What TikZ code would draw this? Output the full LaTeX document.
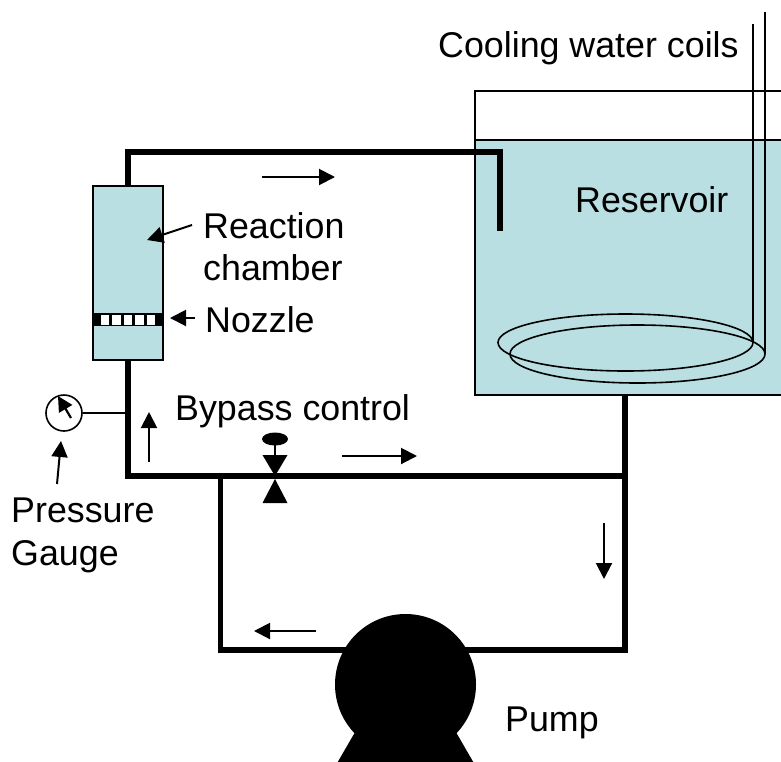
\documentclass[tikz,border=0pt]{standalone}
\usepackage{fontspec}
\setmainfont{Liberation Sans}
\usetikzlibrary{arrows.meta}
\definecolor{water}{HTML}{B9DFE2}
\tikzset{
 lab/.style={anchor=base west,inner sep=0pt,font=\fontsize{35.8}{35.8}\selectfont,text=black},
 pipe/.style={line width=5.6pt,line cap=butt,line join=miter},
 thin line/.style={line width=1.6pt},
 flow/.style={line width=2pt,-{Triangle[length=16pt,width=16pt]}},
 blob/.style={fill=black,draw=none}
}
\begin{document}
\begin{tikzpicture}[x=1pt,y=-1pt]
\useasboundingbox (0,0) rectangle (781,761);
\clip (0,0) rectangle (781,761);
% reservoir
\fill[water] (475,140) rectangle (790,395);
\draw[thin line] (790,91) -- (475,91) -- (475,395) -- (790,395);
\draw[thin line] (475,140) -- (790,140);
% coils
\coordinate (c1) at (625.5,342.5);
\coordinate (c2) at (637.5,354);
\coordinate (c1top) at (753,24);
\coordinate (c2top) at (765,12);
\coordinate (c1end) at (753,342.5);
\coordinate (c2end) at (765,354);
\draw[thin line] (c1) ellipse [x radius=127.5,y radius=28.5];
\draw[thin line] (c2) ellipse [x radius=127.5,y radius=29];
\draw[thin line] (c1top) -- (c1end);
\draw[thin line] (c2top) -- (c2end);
% chamber
\draw[thin line,fill=water] (93,186) rectangle (163,360);
\fill[black] (92,313) rectangle (164,326);
\foreach \a in {101,112.4,124,135.4,147.2} \fill[white] (\a,314.5) rectangle +(8.2,10);
% pipes
\coordinate (chamberTop) at (128,186);
\coordinate (chamberBot) at (128,360);
\coordinate (outlet) at (500,231);
\coordinate (resBot) at (625,395);
\coordinate (tee) at (625,476);
\coordinate (corner) at (128,476);
\coordinate (branch) at (220.5,476);
\draw[pipe] (chamberTop) -- (128,152) -- (500,152) -- (outlet);
\draw[pipe] (chamberBot) -- (corner) -- (tee);
\draw[pipe] (resBot) -- (tee) -- (625,650) -- (405,650);
\draw[pipe] (branch) -- (220.5,650) -- (405,650);
% pump
\fill[blob] (405.5,684.5) circle [radius=70.5];
\fill[blob] (358,727) -- (453,727) -- (475,765) -- (336,765) -- cycle;
% valve
\fill[blob] (262.5,455) -- (287.5,455) -- (275,476) -- cycle;
\fill[blob] (262.5,503) -- (287.5,503) -- (275,479) -- cycle;
\draw[thin line] (275,443) -- (275,456);
\fill[blob] (275,439) ellipse [x radius=13,y radius=6.5];
% gauge
\node[circle,draw,line width=1.6pt,minimum size=36pt,inner sep=0pt] (gauge) at (64,413) {};
\coordinate (tap) at (126,413);
\draw[thin line] (gauge) -- (tap);
\draw[line width=2.2pt,-{Triangle[length=15pt,width=15pt]}] (71,418) -- (58,396);
\draw[flow] (57,484) -- (61,441);
% flow arrows
\draw[flow] (149,462) -- (149,412);
\draw[flow] (262,177) -- (335,177);
\draw[flow] (342,456) -- (417,456);
\draw[flow] (604,523) -- (604,579);
\draw[flow] (316,631) -- (254,631);
\draw[flow] (192,225) -- (147,240);
\draw[flow] (195,318) -- (170,318);
% labels
\node[lab] (cool) at (438,57) {Cooling water coils};
\node[lab] (res) at (575,212) {Reservoir};
\node[lab] (rea) at (203,238) {Reaction};
\node[lab] (cha) at (203,280) {chamber};
\node[lab] (noz) at (205,332) {Nozzle};
\node[lab] (byp) at (175,420) {Bypass control};
\node[lab] (pre) at (11,522) {Pressure};
\node[lab] (gau) at (11,565) {Gauge};
\node[lab] (pum) at (505,731) {Pump};
\end{tikzpicture}
\end{document}
